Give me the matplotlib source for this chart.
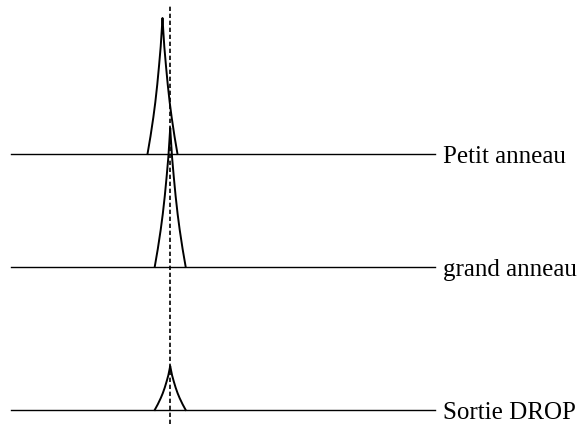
import numpy as np
import matplotlib
matplotlib.use('Agg')
import matplotlib.pyplot as plt

# trace labels, baseline level, peak position, peak height, half width of the peak foot
labels = ['Petit anneau', 'grand anneau', 'Sortie DROP']
baselines = [270, 157, 14]
centers = [162.5, 170.2, 170.2]
heights = [136, 139, 44]
halfwidths = [15, 15.5, 15.5]

# peak profile: distance from centre (fraction of half width)
# against height (fraction of peak height)
prof_u = [1.0, 0.8, 0.61, 0.48, 0.35, 0.23, 0.12, 0.05, 0.0]
prof_f = [0.0, 0.13, 0.27, 0.38, 0.51, 0.65, 0.79, 0.91, 1.0]

x_start = 11
x_end = 435
x_ref = 170.3
ref_top = 418


def peak(c, h, hw, base):
    u = np.array(prof_u)
    f = np.array(prof_f)
    xl = c - u * hw
    xr = c + u[::-1] * hw
    x = np.concatenate([xl, xr[1:]])
    y = base + h * np.concatenate([f, f[::-1][1:]])
    return x, y


fig = plt.figure(figsize=(5.79, 4.24), dpi=100)
ax = fig.add_axes([0, 0, 1, 1])
ax.set_xlim(0, 579)
ax.set_ylim(0, 424)
ax.axis('off')

for lab, b, c, h, hw in zip(labels, baselines, centers, heights, halfwidths):
    ax.plot([x_start, x_end], [b, b], color='black', lw=1.0)
    x, y = peak(c, h, hw, b)
    ax.plot(x, y, color='black', lw=1.4)
    ax.text(x_end + 8, b - 9, lab, fontsize=18, family='Liberation Serif',
            va='baseline', ha='left')

ax.plot([x_ref, x_ref], [0, ref_top], color='black', lw=1.2,
        linestyle=(0, (2.6, 1.6)))

fig.savefig('out.png', dpi=100)
